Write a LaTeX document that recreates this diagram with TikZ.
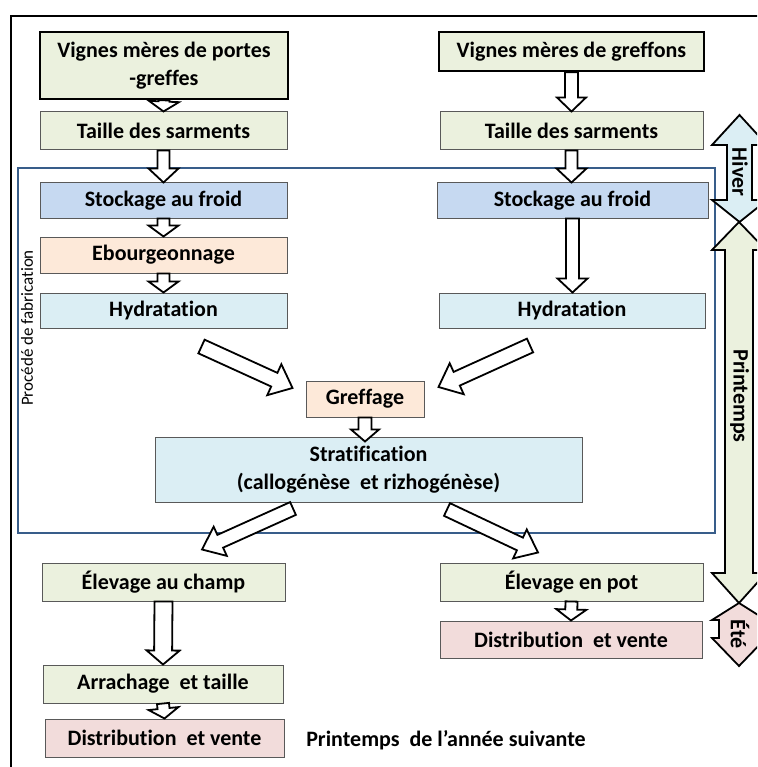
\documentclass[tikz,border=0pt]{standalone}
\usepackage{fontspec}
\setmainfont{Carlito}[Ligatures=NoCommon]
\usetikzlibrary{calc}
\definecolor{cgreen}{HTML}{EBF1DE}
\definecolor{cblue}{HTML}{C6D9F1}
\definecolor{caqua}{HTML}{DBEEF4}
\definecolor{corange}{HTML}{FDE9D9}
\definecolor{cpink}{HTML}{F2DCDB}
\definecolor{cframe}{HTML}{385D8A}
\newcommand{\barr}[5]{%
  \coordinate (bh) at ($(#2)!#5!(#1)$);
  \draw[barrow] ($(#1)!#3!90:(#2)$) -- ($(bh)!#3!90:(#2)$) -- ($(bh)!#4!90:(#2)$) -- (#2)
    -- ($(bh)!#4!-90:(#2)$) -- ($(bh)!#3!-90:(#2)$) -- ($(#1)!#3!-90:(#2)$) -- cycle;}
\begin{document}
\begin{tikzpicture}[x=1pt,y=-1pt,
  box/.style={draw=black!65, line width=1pt, inner sep=0pt, align=center,
    font=\bfseries\fontsize{22}{28}\selectfont},
  topbox/.style={box, draw=black, line width=2.6pt},
  barrow/.style={draw=black, line width=1.8pt, fill=white, line join=miter},
  season/.style={draw=black, line width=1.8pt, line join=miter},
  slabel/.style={rotate=-90, inner sep=0pt, font=\bfseries\fontsize{22}{25}\selectfont}]
\clip (0,0) rectangle (757,767);
\fill[white] (0,0) rectangle (757,767);
% outer frame
\draw[line width=2pt] (11,800) -- (11,16) -- (800,16);
% process frame
\draw[cframe, line width=2.4pt] (18,168) rectangle (715,533);
\node[rotate=90, inner sep=0pt, font=\fontsize{17}{20}\selectfont] (proc) at (27,328) {Procédé de fabrication};
% left column
\node[topbox, fill=cgreen, minimum width=248pt, minimum height=67pt] (vmL) at (164,65.5) {Vignes mères de portes\\-greffes};
\node[box, fill=cgreen, minimum width=247pt, minimum height=38pt] (tL) at (163.5,131) {Taille des sarments};
\node[box, fill=cblue, minimum width=247pt, minimum height=35pt] (sL) at (163.5,200.5) {Stockage au froid};
\node[box, fill=corange, minimum width=247pt, minimum height=36pt] (eb) at (163.5,255) {Ebourgeonnage};
\node[box, fill=caqua, minimum width=247pt, minimum height=35pt] (hL) at (163.5,310.5) {Hydratation};
% right column
\node[topbox, fill=cgreen, minimum width=265pt, minimum height=39pt] (vmR) at (571.5,51.5) {Vignes mères de greffons};
\node[box, fill=cgreen, minimum width=263pt, minimum height=38pt] (tR) at (571.5,131) {Taille des sarments};
\node[box, fill=cblue, minimum width=271pt, minimum height=35pt] (sR) at (572.5,200.5) {Stockage au froid};
\node[box, fill=caqua, minimum width=266pt, minimum height=35pt] (hR) at (572,310.5) {Hydratation};
% middle
\node[box, fill=corange, minimum width=118pt, minimum height=36pt] (gr) at (365,399) {Greffage};
\node[box, fill=caqua, minimum width=427pt, minimum height=65pt] (st) at (368.5,469.5) {Stratification\\(callogénèse\ \ et rizhogénèse)};
% bottom
\node[box, fill=cgreen, minimum width=243pt, minimum height=38pt] (ecL) at (163.5,582) {Élevage au champ};
\node[box, fill=cgreen, minimum width=240pt, minimum height=38pt] (ar) at (163,684) {Arrachage\ \ et taille};
\node[box, fill=cpink, minimum width=239pt, minimum height=38pt] (dL) at (164.5,738) {Distribution\ \ et vente};
\node[box, fill=cgreen, minimum width=263pt, minimum height=38pt] (epR) at (571.5,582) {Élevage en pot};
\node[box, fill=cpink, minimum width=262pt, minimum height=37pt] (dR) at (571,639.5) {Distribution\ \ et vente};
\node[inner sep=0pt, font=\bfseries\fontsize{22}{25}\selectfont] (nxt) at (446,740) {Printemps\ \ de l’année suivante};
% season arrows
\draw[season, fill=caqua] (739.5,115) -- (767,145) -- (752,145) -- (752,200) -- (767,200) -- (739.5,222)
  -- (712,200) -- (727,200) -- (727,145) -- (712,145) -- cycle;
\draw[season, fill=cgreen] (739,222) -- (766,250) -- (753,250) -- (753,573) -- (766,573) -- (739,603)
  -- (712,573) -- (725,573) -- (725,250) -- (712,250) -- cycle;
\draw[season, fill=cpink] (739,603) -- (766,620) -- (759,620) -- (759,638) -- (766,638) -- (739,666)
  -- (712,638) -- (719,638) -- (719,620) -- (712,620) -- cycle;
\node[slabel] (hiv) at (740,172) {Hiver};
\node[slabel] (prt) at (739.5,396) {Printemps};
\node[slabel] (ete) at (740,634) {Été};
% vertical block arrows
\barr{vmL.south}{tL.north}{5.5pt}{15pt}{10pt}
\barr{vmR.south}{tR.north}{6.5pt}{14.5pt}{14pt}
\barr{tL.south}{sL.north}{6pt}{15pt}{14pt}
\coordinate (c1) at (tR.south |- sR.north);
\barr{tR.south}{c1}{6pt}{15pt}{14pt}
\barr{sL.south}{eb.north}{6pt}{15pt}{11pt}
\barr{eb.south}{hL.north}{6pt}{15pt}{11pt}
\coordinate (c2) at (sR.south |- hR.north);
\barr{sR.south}{c2}{6.5pt}{15pt}{14pt}
\coordinate (c3) at ($(st.north)+(-3.5,5)$);
\coordinate (c3t) at (c3 |- gr.south);
\barr{c3t}{c3}{6.5pt}{14pt}{12pt}
\barr{ecL.south}{ar.north}{9pt}{16.5pt}{14pt}
\barr{ar.south}{dL.north}{6pt}{15pt}{10pt}
\barr{epR.south}{dR.north}{6pt}{15pt}{11pt}
% diagonal block arrows
\coordinate (a1t) at ($(hL.south)+(38,18)$);
\coordinate (a1h) at ($(gr.west)+(-13,-11)$);
\barr{a1t}{a1h}{7.5pt}{17pt}{20pt}
\coordinate (a2t) at ($(hR.south)+(-42,17)$);
\coordinate (a2h) at ($(gr.east)+(14,-12)$);
\barr{a2t}{a2h}{7.5pt}{17pt}{20pt}
\coordinate (a3t) at ($(st.south)+(-75.5,6)$);
\coordinate (a3h) at ($(ecL.north)+(38.5,-13)$);
\barr{a3t}{a3h}{7pt}{16pt}{20pt}
\coordinate (a4t) at ($(st.south)+(78.5,7)$);
\coordinate (a4h) at ($(epR.north)+(-33.5,-10)$);
\barr{a4t}{a4h}{7pt}{16pt}{20pt}
\end{tikzpicture}
\end{document}
